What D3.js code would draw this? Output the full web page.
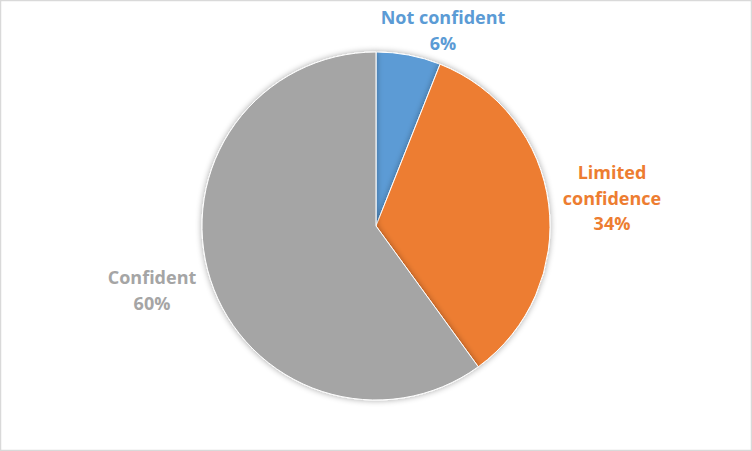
<!DOCTYPE html>
<html><head><meta charset="utf-8">
<script src="https://cdn.jsdelivr.net/npm/d3@7"></script>
<style>body{margin:0;background:#fff}svg{display:block}</style>
</head><body>
<script>
const categories = ["Not confident", "Limited confidence", "Confident"];
const values = [6, 34, 60];
const colors = ["#5B9BD5", "#ED7D31", "#A5A5A5"];
const labelLines = [["Not confident", "6%"], ["Limited", "confidence", "34%"], ["Confident", "60%"]];

const W = 752, H = 451;
const svg = d3.select("body").append("svg").attr("width", W).attr("height", H);
svg.append("rect").attr("x", 0.5).attr("y", 0.5).attr("width", W - 1).attr("height", H - 1)
  .attr("fill", "#fff").attr("stroke", "#d9d9d9").attr("stroke-width", 1.5);

const defs = svg.append("defs");
const f = defs.append("filter").attr("id", "sh").attr("x", "-20%").attr("y", "-20%").attr("width", "140%").attr("height", "140%");
f.append("feGaussianBlur").attr("in", "SourceAlpha").attr("stdDeviation", 3).attr("result", "b");
f.append("feOffset").attr("in", "b").attr("dx", 0).attr("dy", 0).attr("result", "o");
f.append("feComponentTransfer").attr("in", "o").attr("result", "o2").append("feFuncA").attr("type", "linear").attr("slope", 0.35);
const m = f.append("feMerge"); m.append("feMergeNode").attr("in", "o2"); m.append("feMergeNode").attr("in", "SourceGraphic");

const cx = 376, cy = 226, r = 174;
const pie = d3.pie().sort(null).value(d => d)(values);
const arc = d3.arc().innerRadius(0).outerRadius(r);
const g = svg.append("g").attr("transform", `translate(${cx},${cy})`);
g.selectAll("path").data(pie).join("path")
  .attr("d", arc).attr("fill", (d, i) => colors[i])
  .attr("stroke", "#fff").attr("stroke-width", 1).attr("filter", "url(#sh)");

const labelPos = [[443, 24], [612, 179], [152, 284]];
const lh = 25.5;
labelLines.forEach((lines, i) => {
  const t = svg.append("text").attr("text-anchor", "middle")
    .attr("font-family", "'Open Sans', 'Liberation Sans', sans-serif")
    .attr("font-weight", "bold").attr("font-size", 18).attr("fill", colors[i]);
  lines.forEach((s, j) => {
    t.append("tspan").attr("x", labelPos[i][0]).attr("y", labelPos[i][1] + j * lh).text(s);
  });
});
</script>
</body></html>
